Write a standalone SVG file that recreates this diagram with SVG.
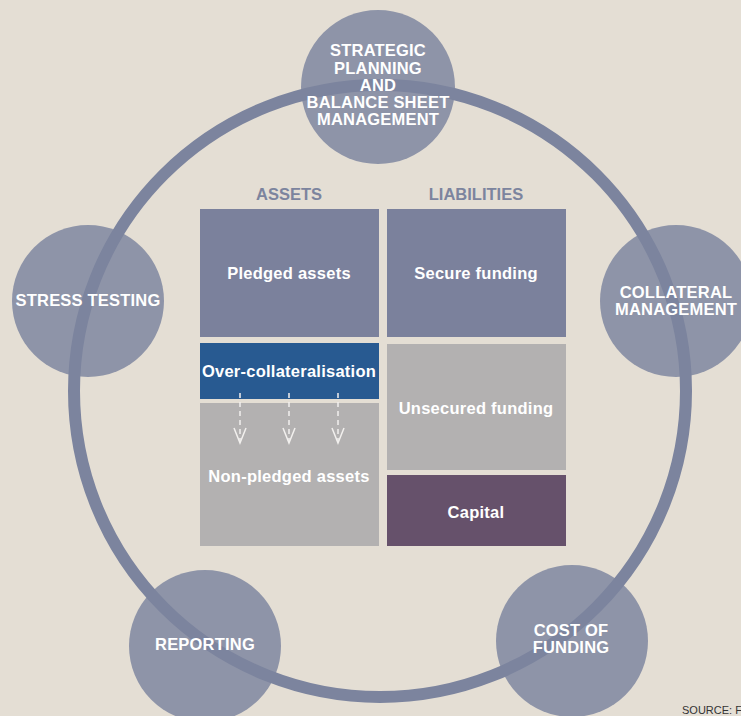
<svg xmlns="http://www.w3.org/2000/svg" width="741" height="716" viewBox="0 0 741 716">
  <style>
    .bg { fill: #e4ded4; }
    .hub { fill: #8e94a8; }
    .ring { fill: none; stroke: #7c849e; stroke-width: 12; }
    .hubtxt { font-family: "Liberation Sans", Arial, sans-serif; font-weight: bold; font-size: 16.5px; letter-spacing: 0.2px; fill: #ffffff; text-anchor: middle; }
    .head { font-family: "Liberation Sans", Arial, sans-serif; font-weight: bold; font-size: 16.5px; fill: #7c849e; text-anchor: middle; }
    .boxtxt { font-family: "Liberation Sans", Arial, sans-serif; font-weight: bold; font-size: 16.5px; letter-spacing: 0.25px; fill: #ffffff; text-anchor: middle; }
    .dash { fill: none; stroke: #f2f0ee; stroke-width: 1.5; stroke-dasharray: 5 4; }
    .head-v { fill: none; stroke: #f2f0ee; stroke-width: 1.5; }
    .src { font-family: "Liberation Sans", Arial, sans-serif; font-size: 11px; fill: #333333; }
  </style>

  <rect class="bg" x="0" y="0" width="741" height="716"/>

  <!-- process hubs -->
  <g id="hub-strategic"><circle class="hub" cx="378" cy="87" r="77"/></g>
  <g id="hub-stress"><circle class="hub" cx="88" cy="301" r="76"/></g>
  <g id="hub-collateral"><circle class="hub" cx="676" cy="301" r="76"/></g>
  <g id="hub-cost"><circle class="hub" cx="572" cy="641" r="76"/></g>
  <g id="hub-reporting"><circle class="hub" cx="205" cy="646" r="76"/></g>

  <!-- ring linking the hubs -->
  <g id="connectors">
    <circle class="ring" cx="380" cy="391" r="306"/>
  </g>

  <!-- hub labels -->
  <g id="label-strategic">
    <text class="hubtxt" x="378" y="56">STRATEGIC</text>
    <text class="hubtxt" x="378" y="74">PLANNING</text>
    <text class="hubtxt" x="378" y="91">AND</text>
    <text class="hubtxt" x="378" y="108">BALANCE SHEET</text>
    <text class="hubtxt" x="378" y="125">MANAGEMENT</text>
  </g>
  <g id="label-stress"><text class="hubtxt" x="88" y="306">STRESS TESTING</text></g>
  <g id="label-collateral">
    <text class="hubtxt" x="676" y="298">COLLATERAL</text>
    <text class="hubtxt" x="676" y="315">MANAGEMENT</text>
  </g>
  <g id="label-cost">
    <text class="hubtxt" x="571" y="636">COST OF</text>
    <text class="hubtxt" x="571" y="653">FUNDING</text>
  </g>
  <g id="label-reporting"><text class="hubtxt" x="205" y="650">REPORTING</text></g>

  <!-- balance sheet -->
  <g id="header-assets"><text class="head" x="289" y="200">ASSETS</text></g>
  <g id="header-liabilities"><text class="head" x="476" y="200">LIABILITIES</text></g>

  <g id="pledged-assets">
    <rect x="200" y="209" width="179" height="128" fill="#7b819c"/>
    <text class="boxtxt" x="289" y="279">Pledged assets</text>
  </g>
  <g id="secure-funding">
    <rect x="387" y="209" width="179" height="128" fill="#7b819c"/>
    <text class="boxtxt" x="476" y="279">Secure funding</text>
  </g>
  <g id="over-collateralisation">
    <rect x="200" y="343" width="179" height="56" fill="#285a91"/>
    <text class="boxtxt" x="289" y="377">Over-collateralisation</text>
  </g>
  <g id="non-pledged-assets">
    <rect x="200" y="403" width="179" height="143" fill="#b3b1b1"/>
    <text class="boxtxt" x="289" y="482" fill="#f2f0ee">Non-pledged assets</text>
  </g>
  <g id="unsecured-funding">
    <rect x="387" y="344" width="179" height="126" fill="#b3b1b1"/>
    <text class="boxtxt" x="476" y="414">Unsecured funding</text>
  </g>
  <g id="capital">
    <rect x="387" y="475" width="179" height="71" fill="#66516b"/>
    <text class="boxtxt" x="476" y="518">Capital</text>
  </g>

  <!-- dashed downward arrows -->
  <g id="arrows">
    <path class="dash" d="M240 393 V442"/>
    <path class="head-v" d="M234 428 L240 443 L246 428"/>
    <path class="dash" d="M289 393 V442"/>
    <path class="head-v" d="M283 428 L289 443 L295 428"/>
    <path class="dash" d="M338 393 V442"/>
    <path class="head-v" d="M332 428 L338 443 L344 428"/>
  </g>

  <text class="src" x="682" y="714">SOURCE: F</text>
</svg>
